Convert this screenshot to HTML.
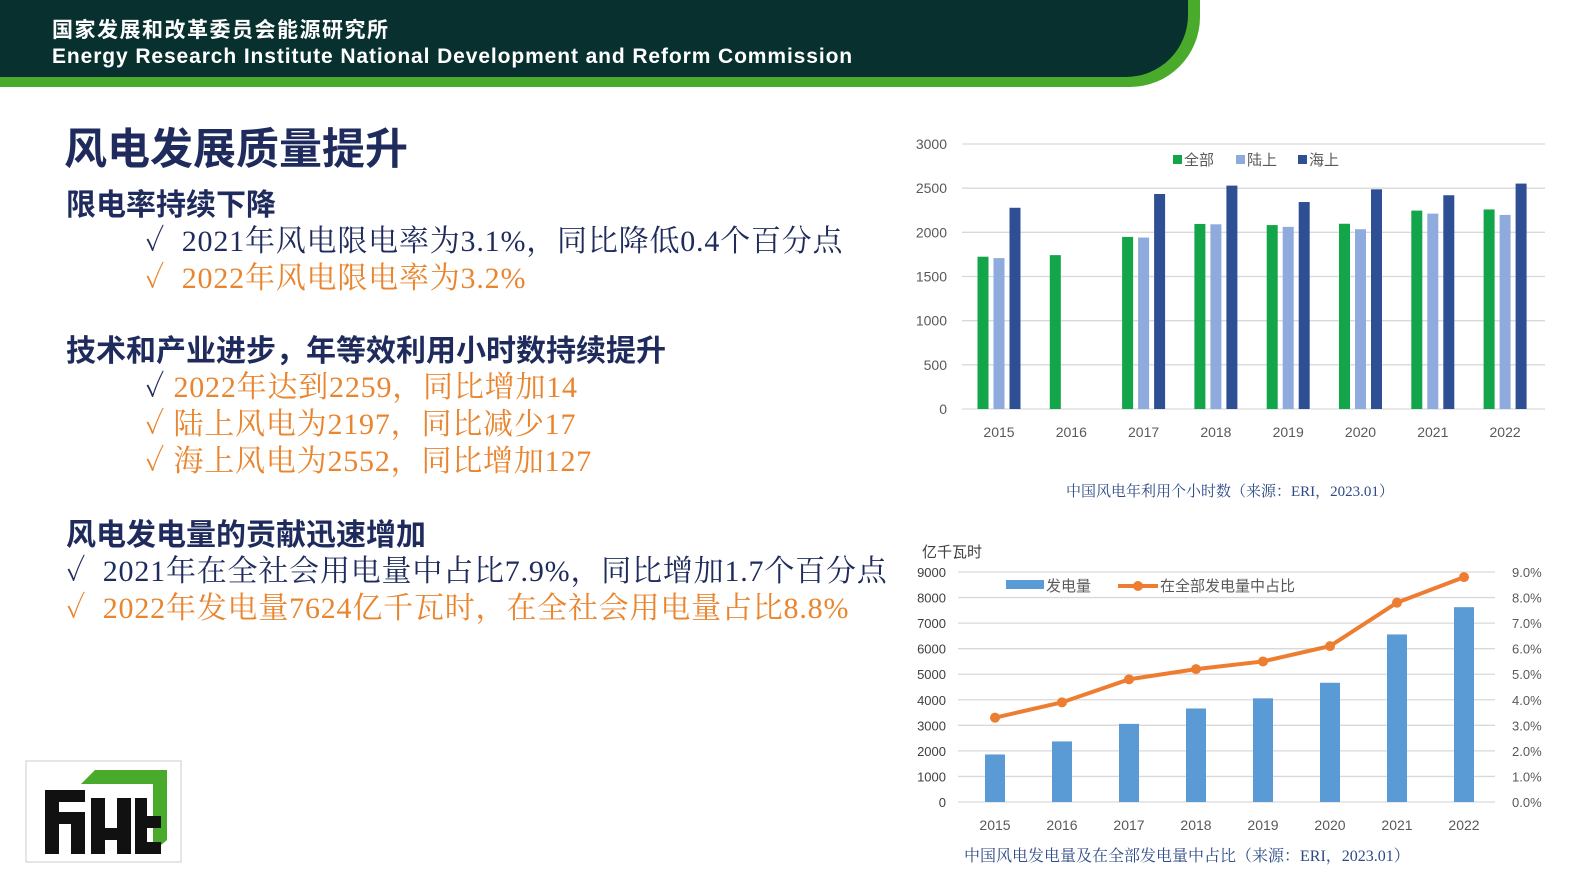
<!DOCTYPE html>
<html><head><meta charset="utf-8"><style>
body{margin:0;width:1587px;height:893px;background:#fff;position:relative;overflow:hidden;font-family:"Liberation Serif","Noto Serif CJK SC",serif}
.abs{position:absolute;white-space:nowrap}
.sans{font-family:"Liberation Sans","Noto Sans CJK SC",sans-serif}
.blue{color:#1f2b5c}.org{color:#e9852e}
.bl{letter-spacing:0.8px}
</style></head><body>
<div class="abs" style="left:0;top:0;width:1200px;height:87px;background:#4aaa2c;border-bottom-right-radius:70px"></div>
<div class="abs" style="left:0;top:0;width:1188px;height:77px;background:#07302e;border-bottom-right-radius:62px"></div>
<div class="abs sans" style="left:52px;top:14px;color:#fff;font-size:21px;letter-spacing:1.5px;font-weight:bold">国家发展和改革委员会能源研究所</div>
<div class="abs sans" style="left:52px;top:45px;color:#fff;font-size:21px;letter-spacing:0.9px;font-weight:bold">Energy Research Institute National Development and Reform Commission</div>

<div class="abs sans blue" style="left:64px;top:115px;font-size:43px;font-weight:bold">风电发展质量提升</div>
<div class="abs sans blue" style="left:66px;top:180px;font-size:30px;font-weight:bold">限电率持续下降</div>
<div class="abs blue bl" style="left:145px;top:216px;font-size:30px">✓&nbsp; 2021年风电限电率为3.1%，同比降低0.4个百分点</div>
<div class="abs org bl" style="left:145px;top:253px;font-size:30px">✓&nbsp; 2022年风电限电率为3.2%</div>
<div class="abs sans blue" style="left:66px;top:326px;font-size:30px;font-weight:bold">技术和产业进步，年等效利用小时数持续提升</div>
<div class="abs org bl" style="left:145px;top:362px;font-size:30px"><span class="blue">✓</span> 2022年达到2259，同比增加14</div>
<div class="abs org bl" style="left:145px;top:399px;font-size:30px">✓ 陆上风电为2197，同比减少17</div>
<div class="abs org bl" style="left:145px;top:436px;font-size:30px">✓ 海上风电为2552，同比增加127</div>
<div class="abs sans blue" style="left:66px;top:510px;font-size:30px;font-weight:bold">风电发电量的贡献迅速增加</div>
<div class="abs blue bl" style="left:66px;top:546px;font-size:30px">✓&nbsp; 2021年在全社会用电量中占比7.9%，同比增加1.7个百分点</div>
<div class="abs org bl" style="left:66px;top:583px;font-size:30px">✓&nbsp; 2022年发电量7624亿千瓦时，在全社会用电量占比8.8%</div>

<svg class="abs" style="left:25px;top:760px" width="160" height="105" viewBox="0 0 160 105">
<rect x="1" y="1" width="155" height="101" fill="#fff" stroke="#ccc"/>
<polygon points="70,10 142,10 142,80 128,92 128,24 56,24" fill="#4aaa2c"/>
<path d="M20,30h40v12H34v10h26v42H46V64H34v30H20z" fill="#111"/>
<path d="M66,38h14v30h12V38h14v56H92V80H80v14H66z" fill="#111"/>
<path d="M110,38h12v18h14v12h-14v14h14v12h-26z" fill="#111"/>
</svg>

<svg class="abs sans" id="c1" style="left:0;top:0" width="1587" height="893"></svg>
<div class="abs" style="left:1066px;top:480px;font-size:15px;color:#2c4a86">中国风电年利用个小时数（来源：ERI，2023.01）</div>
<div class="abs" style="left:964px;top:843px;font-size:16px;color:#2c4a86">中国风电发电量及在全部发电量中占比（来源：ERI，2023.01）</div>

<script>
const years=["2015","2016","2017","2018","2019","2020","2021","2022"];
const hoursAll=[1724,1742,1948,2095,2082,2097,2246,2259];
const hoursOnshore=[1708,null,1941,2091,2062,2035,2212,2197];
const hoursOffshore=[2278,null,2434,2529,2343,2487,2420,2552];
const hoursTicks=[0,500,1000,1500,2000,2500,3000];
const genValues=[1860,2370,3057,3660,4057,4665,6556,7624];
const shareValues=[3.3,3.9,4.8,5.2,5.5,6.1,7.8,8.8];
const genTicks=[0,1000,2000,3000,4000,5000,6000,7000,8000,9000];
const shareTicks=[0,1,2,3,4,5,6,7,8,9];

const svg=document.getElementById('c1');
const NS='http://www.w3.org/2000/svg';
function mk(tag,attrs,txt){const e=document.createElementNS(NS,tag);for(const k in attrs)e.setAttribute(k,attrs[k]);if(txt!==undefined)e.textContent=txt;svg.appendChild(e);return e;}

// chart 1
const y1=v=>409-v*265/3000;
const x1=i=>999+i*72.3;
hoursTicks.forEach(t=>{
  const g=mk('line',{x1:962,x2:1545,y1:y1(t),y2:y1(t),stroke:'#d9d9d9','stroke-width':1.3});
  
  
  const l=mk('text',{x:947,y:y1(t)+5,'text-anchor':'end','font-size':14,fill:'#595959'},t);
  
  
});
years.forEach((y,i)=>{
  const l=mk('text',{x:x1(i),y:437,'text-anchor':'middle','font-size':14,fill:'#595959'},y);
  
  
});
const series1=[[hoursAll,'#13a54a',-16],[hoursOnshore,'#8faadc',0],[hoursOffshore,'#2f4f95',16]];
series1.forEach(([arr,col,off])=>{
  arr.forEach((v,i)=>{
    if(v==null)return;
    const r=mk('rect',{x:x1(i)+off-5.5,y:y1(v),width:11,height:y1(0)-y1(v),fill:col});
    
    
  });
});
[['全部','#13a54a',1173],['陆上','#8faadc',1236],['海上','#2f4f95',1298]].forEach(([t,c,x])=>{
  const r=mk('rect',{x:x,y:155,width:9,height:9,fill:c});
  
  
  const l=mk('text',{x:x+11,y:165,'font-size':15,fill:'#595959'},t);
  
  
});

// chart 2
const y2=v=>802-v*230/9000;
const y2r=v=>802-v*230/9;
const x2=i=>995+i*67;
genTicks.forEach(t=>{
  const g=mk('line',{x1:958,x2:1495,y1:y2(t),y2:y2(t),stroke:'#d9d9d9','stroke-width':1.3});
  
  
  const l=mk('text',{x:946,y:y2(t)+5,'text-anchor':'end','font-size':13,fill:'#404040'},t);
  
  
});
shareTicks.forEach(t=>{
  const l=mk('text',{x:1512,y:y2r(t)+5,'font-size':13,fill:'#595959'},t.toFixed(1)+'%');
  
  
});
years.forEach((y,i)=>{
  const l=mk('text',{x:x2(i),y:830,'text-anchor':'middle','font-size':14,fill:'#595959'},y);
  
  
  const r=mk('rect',{x:x2(i)-10,y:y2(genValues[i]),width:20,height:y2(0)-y2(genValues[i]),fill:'#5b9bd5'});
  
  
});
const pts=shareValues.map((v,i)=>x2(i)+','+y2r(v)).join(' ');
const pl=mk('polyline',{points:pts,fill:'none',stroke:'#ed7d31','stroke-width':4});


shareValues.forEach((v,i)=>{
  const c=mk('circle',{cx:x2(i),cy:y2r(v),r:5,fill:'#ed7d31'});
  
  
});
const u=mk('text',{x:922,y:557,'font-size':15,fill:'#404040'},'亿千瓦时');


const lg=mk('rect',{x:1006,y:580,width:38,height:9,fill:'#5b9bd5'});


const lt=mk('text',{x:1046,y:591,'font-size':15,fill:'#595959'},'发电量');


const ll=mk('line',{x1:1118,x2:1158,y1:586,y2:586,stroke:'#ed7d31','stroke-width':4});


const lc=mk('circle',{cx:1138,cy:586,r:5,fill:'#ed7d31'});


const lt2=mk('text',{x:1160,y:591,'font-size':15,fill:'#595959'},'在全部发电量中占比');


</script>
</body></html>
